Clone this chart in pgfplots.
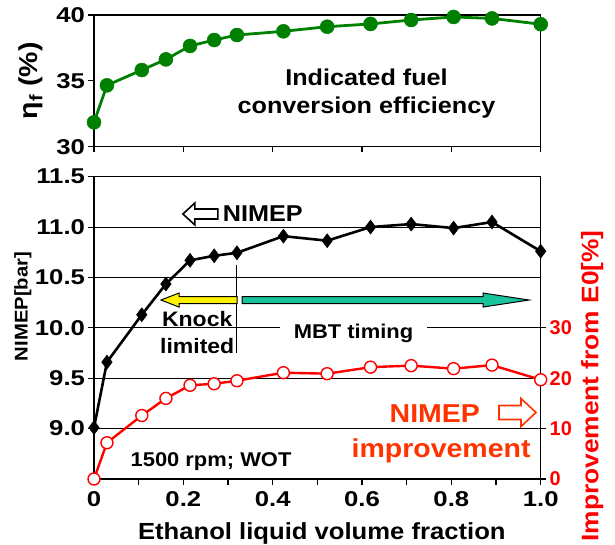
\documentclass[border=0pt]{standalone}
\usepackage{pgfplots}
\pgfplotsset{compat=1.18}
\usepackage{pgfplotstable}
\usepackage{fontspec}
\setmainfont{Liberation Sans}[FakeStretch=1.1]
\newfontfamily\tickfont{Liberation Sans}[FakeStretch=1.2]
\newfontfamily\plainfont{Liberation Sans}
\definecolor{effgreen}{RGB}{0,128,0}
\definecolor{mbtgreen}{RGB}{25,195,155}
\definecolor{imporange}{RGB}{255,51,0}
\definecolor{impred}{RGB}{255,0,0}
\newcommand{\fs}[1]{\fontsize{#1}{#1}\selectfont\bfseries}

\pgfplotstableread{
x     eta    nimep   imp
0.000 31.85  9.01    0.0
0.029 34.66  9.66    7.2
0.107 35.82  10.13   12.6
0.161 36.63  10.435  16.0
0.215 37.65  10.67   18.6
0.269 38.10  10.715  18.9
0.320 38.48  10.745  19.5
0.424 38.76  10.91   21.1
0.522 39.11  10.865  20.9
0.619 39.32  11.00   22.2
0.710 39.62  11.03   22.5
0.805 39.85  10.99   21.9
0.891 39.74  11.05   22.6
1.000 39.30  10.76   19.7
}\datatable

\begin{document}
\begin{tikzpicture}
\useasboundingbox (-94bp,-66bp) rectangle (521bp,479bp);
\pgfplotsset{base/.style={scale only axis, width=446.7bp, xmin=0, xmax=1, clip=false,
  /pgf/number format/assume math mode=true,
  tick align=outside, major tick length=5.5bp, minor tick length=5.5bp,
  axis line style={line width=1.3bp},
  every tick/.append style={black, line width=1.1bp},
  tick label style={font={\tickfont\fs{21.5}}}}}

% ---------- top: efficiency ----------
\begin{axis}[base, at={(0bp,332.3bp)}, anchor=south west, height=131.7bp,
  ymin=30, ymax=40, ytick={30,35,40},
  xtick={0,0.2,0.4,0.6,0.8,1}, xticklabels={},
  xtick pos=bottom, ytick pos=left,
  ylabel={η\textsubscript{f} (\%)},
  ylabel style={font={\fs{26}}, at={(axis description cs:-0.141,0.5)}, anchor=center}]
\addplot[effgreen, line width=2.8bp, mark=*, mark size=7bp,
  mark options={fill=effgreen, draw=effgreen, line width=0.5bp}] table[x=x,y=eta]{\datatable};
\node[align=center, font={\fontsize{23}{28}\selectfont\bfseries}, inner sep=0]
  at (axis cs:0.61,34.0) {Indicated fuel\\conversion efficiency};
\end{axis}

% ---------- bottom: NIMEP ----------
\begin{axis}[base, at={(0bp,0bp)}, anchor=south west, height=302.3bp,
  ymin=8.5, ymax=11.5,
  ytick={9,9.5,10,10.5,11,11.5}, yticklabels={9.0,9.5,10.0,10.5,11.0,11.5},
  xtick={0,0.2,0.4,0.6,0.8,1}, xticklabels={0,0.2,0.4,0.6,0.8,1.0},
  minor xtick={0.1,0.3,0.5,0.7,0.9},
  xtick pos=bottom, ytick pos=left,
  ymajorgrids, grid style={black, line width=0.9bp},
  xticklabel style={yshift=-4bp},
  xlabel={Ethanol liquid volume fraction},
  xlabel style={font={\fs{23.4}}, at={(axis description cs:0.51,-0.20)}, anchor=base},
  ylabel={NIMEP[bar]},
  ylabel style={font={\fs{18.5}}, at={(axis description cs:-0.159,0.571)}, anchor=center}]
\addplot[black, line width=2.6bp, mark=diamond*, mark size=7bp,
  mark options={line width=0.5bp}] table[x=x,y=nimep]{\datatable};

% annotations
\draw[line width=1.6bp, fill=white] (axis cs:0.199,11.13) -- ++(12bp,11bp) -- ++(0bp,-6bp)
  -- ++(23bp,0bp) -- ++(0bp,-10bp) -- ++(-23bp,0bp) -- ++(0bp,-6bp) -- cycle;
\node[font={\fs{23}}, anchor=base, inner sep=0] at (axis cs:0.378,11.053) {NIMEP};

\draw[line width=1.6bp] (axis cs:0.319,10.62) -- (axis cs:0.319,9.75);
\draw[line width=1bp, fill=yellow] (axis cs:0.150,10.276) -- ++(18bp,7bp) -- ++(0bp,-3.5bp)
  -- ++(58bp,0bp) -- ++(0bp,-7bp) -- ++(-58bp,0bp) -- ++(0bp,-3.5bp) -- cycle;
\draw[line width=1bp, fill=mbtgreen] (axis cs:0.974,10.276) -- ++(-46bp,7bp) -- ++(0bp,-3.5bp)
  -- ++(-241bp,0bp) -- ++(0bp,-7bp) -- ++(241bp,0bp) -- ++(0bp,-3.5bp) -- cycle;

\node[font={\fs{21}}, anchor=base, inner sep=0] at (axis cs:0.231,10.01) {Knock};
\node[font={\fs{21}}, anchor=base, inner sep=0] at (axis cs:0.231,9.75) {limited};
\node[font={\fs{20}}, anchor=base, fill=white, inner xsep=14bp, inner ysep=1bp]
  at (axis cs:0.581,9.896) {MBT timing};
\node[font={\fs{20}}, anchor=base, inner sep=0] at (axis cs:0.262,8.622) {1500 rpm; WOT};

\node[font={\fs{26}}, text=imporange, anchor=base, inner sep=0] at (axis cs:0.763,9.056) {NIMEP};
\node[font={\fs{26}}, text=imporange, anchor=base, inner sep=0] at (axis cs:0.777,8.715) {improvement};
\draw[line width=1.6bp, draw=imporange, fill=white] (axis cs:0.9895,9.16) -- ++(-15bp,14bp)
  -- ++(0bp,-7bp) -- ++(-22bp,0bp) -- ++(0bp,-14bp) -- ++(22bp,0bp) -- ++(0bp,-7bp) -- cycle;
\end{axis}

% ---------- right axis: improvement ----------
\begin{axis}[base, at={(0bp,0bp)}, anchor=south west, height=302.3bp,
  ymin=0, ymax=60, axis x line=none, axis y line*=right,
  ytick={0,10,20,30},
  yticklabel style={font={\plainfont\fs{20}}, text=impred},
  ylabel={Improvement from E0[\%]},
  ylabel style={font={\fs{24}}, text=impred, at={(axis description cs:1.115,0.308)}, anchor=center}]
\addplot[impred, line width=2.4bp, mark=*, mark size=6bp,
  mark options={fill=white, draw=impred, line width=1.4bp}] table[x=x,y=imp]{\datatable};
\end{axis}
\end{tikzpicture}
\end{document}
